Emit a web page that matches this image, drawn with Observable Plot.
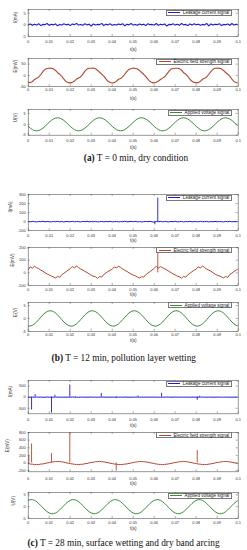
<!DOCTYPE html>
<html>
<head>
<meta charset="utf-8">
<script src="https://cdn.jsdelivr.net/npm/d3@7"></script>
<script src="https://cdn.jsdelivr.net/npm/@observablehq/plot@0.6"></script>
<style>
  html, body { margin: 0; padding: 0; background: #fff; }
  #fig { position: relative; width: 247px; height: 550px; overflow: hidden; background: #fff; }
  #fig svg { position: absolute; left: 0; }
  .legend { position: absolute; display: flex; align-items: center; box-sizing: border-box;
            height: 6px; border: 0.5px solid #777; background: #fff; padding: 0 2px 0 1.5px;
            font-family: 'Liberation Sans', Arial, sans-serif; font-size: 4.6px; color: #222; white-space: nowrap; }
  .legend .swatch { display: inline-block; width: 12px; height: 0; margin-right: 2.5px; }
  .caption { position: absolute; transform: translateX(-50%); white-space: nowrap;
             font-family: 'Liberation Serif', 'Times New Roman', serif; font-size: 9.3px; line-height: 10px; color: #111; }
</style>
</head>
<body>
<div id="fig"></div>
<script>
// ---- shared axis data ----
const SAMPLE_STEP = 0.001; // digitised every 1 ms over 0..0.1 s
const xTicks = [0, 0.01, 0.02, 0.03, 0.04, 0.05, 0.06, 0.07, 0.08, 0.09, 0.1];
const xTickLabels = ["0", "0.01", "0.02", "0.03", "0.04", "0.05", "0.06", "0.07", "0.08", "0.09", "0.1"];

// ---- (a) T = 0 min, dry condition ----
const aCurrent = [
  0.0,0.4,-0.2,0.3,-0.1,0.5,-0.3,0.2,0.1,0.6,
  -0.2,0.3,0.0,0.4,-0.4,0.2,-0.1,0.5,0.0,0.3,
  -0.3,0.4,0.1,0.6,-0.1,0.2,-0.2,0.5,0.0,0.3,
  -0.5,0.4,-0.1,0.2,0.1,0.6,-0.3,0.3,0.0,0.5,
  -0.2,0.2,-0.1,0.4,0.1,0.5,-0.4,0.3,0.0,0.6,
  -0.1,0.2,-0.2,0.4,0.0,0.3,-0.3,0.5,0.1,0.2,
  -0.1,0.6,-0.2,0.3,0.0,0.4,-0.5,0.2,0.1,0.5,
  -0.1,0.3,-0.2,0.6,0.0,0.2,-0.3,0.4,-0.1,0.5,
  0.1,0.3,-0.2,0.2,0.0,0.6,-0.4,0.4,-0.1,0.3,
  0.1,0.5,-0.3,0.2,0.0,0.4,-0.2,0.6,-0.1,0.3,
  0.1];
const aField = [
  -30,-32,-27,-18,-13,-7,4,17,27,31,33,32,29,22,12,5,-4,-17,-27,-32,
  -33,-31,-25,-16,-12,-6,6,19,28,32,32,33,30,23,14,6,-3,-15,-26,-31,
  -34,-32,-26,-17,-14,-5,5,18,27,30,33,31,29,22,13,5,-5,-16,-27,-32,
  -33,-30,-25,-18,-12,-6,6,18,28,31,32,32,30,23,12,6,-4,-17,-26,-31,
  -33,-32,-26,-17,-13,-7,5,17,27,32,33,32,29,22,13,5,-3,-16,-27,-32,
  -34];
const aVoltage = [
  -0.93,-1.76,-2.43,-2.85,-3,-2.85,-2.43,-1.76,-0.93,0,0.93,1.76,2.43,2.85,3,2.85,2.43,1.76,0.93,0,
  -0.93,-1.76,-2.43,-2.85,-3,-2.85,-2.43,-1.76,-0.93,0,0.93,1.76,2.43,2.85,3,2.85,2.43,1.76,0.93,0,
  -0.93,-1.76,-2.43,-2.85,-3,-2.85,-2.43,-1.76,-0.93,0,0.93,1.76,2.43,2.85,3,2.85,2.43,1.76,0.93,0,
  -0.93,-1.76,-2.43,-2.85,-3,-2.85,-2.43,-1.76,-0.93,0,0.93,1.76,2.43,2.85,3,2.85,2.43,1.76,0.93,0,
  -0.93,-1.76,-2.43,-2.85,-3,-2.85,-2.43,-1.76,-0.93,0,0.93,1.76,2.43,2.85,3,2.85,2.43,1.76,0.93,0,
  -0.93];

// ---- (b) T = 12 min, pollution layer wetting ----
const bCurrent = [
  1,-2,3,0,-3,2,-1,4,-2,1,
  0,-3,2,-1,3,-2,1,-4,2,0,
  -1,3,-2,1,0,-3,2,-1,4,-2,
  1,-1,3,-3,0,2,-2,1,-1,3,
  -2,0,2,-3,1,-1,4,-2,0,2,
  -1,3,-2,1,-3,0,2,-1,3,-2,
  -6,2,-1,3,-2,1,0,-3,2,-1,
  3,-2,0,2,-3,1,-1,4,-2,0,
  1,-2,3,-1,0,2,-3,1,-1,3,
  -2,1,0,-3,2,-1,3,-2,1,0,
  -1];
const bCurrentSpikeT = [0.0603, 0.0617];
const bCurrentSpikeV = [-35, 260];
const bField = [
  26,48,36,52,40,33,21,13,1,-9,-17,-25,-32,-42,-27,-36,-15,-3,9,21,
  33,50,38,55,41,30,22,11,3,-8,-19,-27,-30,-44,-29,-33,-13,-1,11,19,
  30,46,40,51,43,31,20,12,0,-10,-18,-24,-33,-41,-30,-34,-14,-2,10,22,
  35,52,37,49,40,32,23,12,2,-9,-17,-26,-31,-43,-28,-35,-15,-4,9,20,
  31,47,39,53,42,30,21,13,1,-11,-19,-25,-32,-40,-29,-36,-13,-2,10,21,
  32];
const bFieldSpikeT = [0.0617];
const bFieldSpikeV = [230];
const bVoltage = [
  -2.96,-2.96,-2.67,-2.12,-1.36,-0.47,0.47,1.36,2.12,2.67,2.96,2.96,2.67,2.12,1.36,0.47,-0.47,-1.36,-2.12,-2.67,
  -2.96,-2.96,-2.67,-2.12,-1.36,-0.47,0.47,1.36,2.12,2.67,2.96,2.96,2.67,2.12,1.36,0.47,-0.47,-1.36,-2.12,-2.67,
  -2.96,-2.96,-2.67,-2.12,-1.36,-0.47,0.47,1.36,2.12,2.67,2.96,2.96,2.67,2.12,1.36,0.47,-0.47,-1.36,-2.12,-2.67,
  -2.96,-2.96,-2.67,-2.12,-1.36,-0.47,0.47,1.36,2.12,2.67,2.96,2.96,2.67,2.12,1.36,0.47,-0.47,-1.36,-2.12,-2.67,
  -2.96,-2.96,-2.67,-2.12,-1.36,-0.47,0.47,1.36,2.12,2.67,2.96,2.96,2.67,2.12,1.36,0.47,-0.47,-1.36,-2.12,-2.67,
  -2.96];

// ---- (c) T = 28 min, surface wetting and dry band arcing ----
const cCurrent = [
  2,-5,4,-3,6,-2,3,-6,1,5,
  -3,2,-4,6,-1,3,-5,2,-2,4,
  -3,5,-1,2,-6,3,-2,4,-3,1,
  5,-2,3,-4,2,-1,6,-3,1,-2,
  4,-5,2,-1,3,-3,5,-2,1,-4,
  2,-1,4,-3,2,-5,3,-1,2,-2,
  4,-3,1,-5,3,-2,4,-1,2,-3,
  5,-2,1,-4,3,-1,2,-5,4,-2,
  1,-3,5,-1,2,-4,3,-2,1,-3,
  4,-1,2,-5,3,-2,1,-3,4,-1,
  2];
const cCurrentSpikeT = [0.0016, 0.0033, 0.0111, 0.0127, 0.0198, 0.0225, 0.0348, 0.0419, 0.0523, 0.0635, 0.0805, 0.0815];
const cCurrentSpikeV = [-580, 115, -720, 86, 545, -30, 170, -55, 50, 170, -145, 40];
const cField = [
  -10,-28,-30,-42,-36,-40,-27,-24,-10,2,10,26,30,40,36,42,28,22,6,-4,
  -18,-22,-35,-36,-44,-34,-32,-18,-14,3,14,20,35,36,44,34,31,17,10,-6,
  -14,-27,-30,-41,-38,-38,-28,-24,-9,-1,12,25,30,41,38,37,29,21,7,-2,
  -16,-24,-34,-37,-43,-35,-31,-20,-13,2,11,23,33,37,42,35,32,18,9,-5,
  -13,-26,-31,-40,-37,-39,-29,-22,-11,1,13,22,31,39,40,38,28,20,8,-3,
  -15];
const cFieldSpikeT = [0.0003, 0.0016, 0.0111, 0.0198, 0.0419, 0.0805];
const cFieldSpikeV = [190, 500, 250, 790, -210, 330];
const cVoltage = [
  2.67,2.96,2.96,2.67,2.12,1.36,0.47,-0.47,-1.36,-2.12,-2.67,-2.96,-2.96,-2.67,-2.12,-1.36,-0.47,0.47,1.36,2.12,
  2.67,2.96,2.96,2.67,2.12,1.36,0.47,-0.47,-1.36,-2.12,-2.67,-2.96,-2.96,-2.67,-2.12,-1.36,-0.47,0.47,1.36,2.12,
  2.67,2.96,2.96,2.67,2.12,1.36,0.47,-0.47,-1.36,-2.12,-2.67,-2.96,-2.96,-2.67,-2.12,-1.36,-0.47,0.47,1.36,2.12,
  2.67,2.96,2.96,2.67,2.12,1.36,0.47,-0.47,-1.36,-2.12,-2.67,-2.96,-2.96,-2.67,-2.12,-1.36,-0.47,0.47,1.36,2.12,
  2.67,2.96,2.96,2.67,2.12,1.36,0.47,-0.47,-1.36,-2.12,-2.67,-2.96,-2.96,-2.67,-2.12,-1.36,-0.47,0.47,1.36,2.12,
  2.67];

// ---- legend / label text ----
const legendCurrent = "Leakage current signal";
const legendField = "Electric field strength signal";
const legendVoltage = "Applied voltage signal";
const captions = [
  {tag: "(a)", text: " T = 0 min, dry condition"},
  {tag: "(b)", text: " T = 12 min, pollution layer wetting"},
  {tag: "(c)", text: " T = 28 min, surface wetting and dry band arcing"}
];

// ---- colours ----
const BLUE = "#1a1ad6", RED = "#b5452c", GREEN = "#3b8a3b";

// ---- layout of the nine axes ----
const panels = [
  {top: 9, bottom: 36, values: aCurrent, color: BLUE, sw: 1.1, y: [-5, 6.6], yTicks: [-5, 0, 5], yLabel: "I(mA)", yDx: -12.7, tickDy: 6.3, titleDy: 14.5, legend: legendCurrent},
  {top: 58.3, bottom: 86.5, values: aField, color: RED, sw: 1.1, y: [-50, 75], yTicks: [-50, 0, 50], yLabel: "E(mV)", yDx: -12.7, tickDy: 4.8, titleDy: 13.5, legend: legendField},
  {top: 109.3, bottom: 135, values: aVoltage, color: GREEN, sw: 1, y: [-5, 6.8], yTicks: [-5, 0, 5], yLabel: "U(V)", yDx: -12.7, tickDy: 6.7, titleDy: 14.3, legend: legendVoltage},
  {top: 194.3, bottom: 230.5, values: bCurrent, color: BLUE, sw: 1, y: [-100, 300], yTicks: [-100, 0, 100, 200, 300], yLabel: "I(mA)", yDx: -17.7, tickDy: 6.2, titleDy: 11.8, legend: legendCurrent, spikeT: bCurrentSpikeT, spikeV: bCurrentSpikeV},
  {top: 246.7, bottom: 284.7, values: bField, color: RED, sw: 1, y: [-100, 200], yTicks: [-100, 0, 100, 200], yLabel: "E(mV)", yDx: -16, tickDy: 5.3, titleDy: 10.6, legend: legendField, spikeT: bFieldSpikeT, spikeV: bFieldSpikeV},
  {top: 301.7, bottom: 330.5, values: bVoltage, color: GREEN, sw: 1, y: [-5, 6.2], yTicks: [-5, 0, 5], yLabel: "E(V)", yDx: -12.7, tickDy: 5.2, titleDy: 11.2, legend: legendVoltage},
  {top: 380, bottom: 413.3, values: cCurrent, color: BLUE, sw: 1, y: [-750, 750], yTicks: [-500, 0, 500], yLabel: "I(mA)", yDx: -17.7, tickDy: 7.7, titleDy: 13.4, legend: legendCurrent, spikeT: cCurrentSpikeT, spikeV: cCurrentSpikeV},
  {top: 431.7, bottom: 471, values: cField, color: RED, sw: 1, y: [-230, 800], yTicks: [-200, 0, 200, 400, 600, 800], yLabel: "E(mV)", yDx: -21, tickDy: 8, titleDy: 13.3, legend: legendField, spikeT: cFieldSpikeT, spikeV: cFieldSpikeV},
  {top: 492.3, bottom: 518.3, values: cVoltage, color: GREEN, sw: 1, y: [-5, 6], yTicks: [-5, 0, 5], yLabel: "U(V)", yDx: -14.4, tickDy: 5.4, titleDy: 11, legend: legendVoltage}
];
const captionCenters = [{x: 136, y: 158.3}, {x: 123.8, y: 358.3}, {x: 123.5, y: 543.3}];

const W = 247, ML = 27.7, MR = 9.3, MT = 3, MB = 18;
const FONT = "'Liberation Sans', Arial, Helvetica, sans-serif";
const AX = "#555";
const fig = document.getElementById("fig");

for (const p of panels) {
  const fh = p.bottom - p.top, fw = W - ML - MR;
  const series = p.values.map((v, i) => ({t: i * SAMPLE_STEP, v}));
  const spikes = (p.spikeT || []).map((t, i) => ({t, v: p.spikeV[i], base: 0}));
  const svg = Plot.plot({
    width: W, height: fh + MT + MB,
    marginLeft: ML, marginRight: MR, marginTop: MT, marginBottom: MB,
    style: {fontFamily: FONT, background: "none", overflow: "visible", color: "#333"},
    x: {domain: [0, 0.1], axis: null},
    y: {domain: p.y, axis: null},
    marks: [
      Plot.line(series, {x: "t", y: "v", stroke: p.color, strokeWidth: p.sw, clip: true}),
      Plot.ruleX(spikes, {x: "t", y1: "base", y2: "v", stroke: p.color, strokeWidth: 0.9, clip: true}),
      Plot.frame({stroke: AX, strokeWidth: 0.6}),
      Plot.ruleX(xTicks, {x: d => d, insetTop: fh - 2, stroke: AX, strokeWidth: 0.5}),
      Plot.ruleX(xTicks, {x: d => d, insetBottom: fh - 2, stroke: AX, strokeWidth: 0.5}),
      Plot.ruleY(p.yTicks, {y: d => d, insetRight: fw - 2, stroke: AX, strokeWidth: 0.5}),
      Plot.ruleY(p.yTicks, {y: d => d, insetLeft: fw - 2, stroke: AX, strokeWidth: 0.5}),
      Plot.text(xTicks, {x: d => d, frameAnchor: "bottom", dy: p.tickDy, text: (d, i) => xTickLabels[i], fontSize: 4, fill: "#333"}),
      Plot.text(p.yTicks, {y: d => d, frameAnchor: "left", dx: -2.5, textAnchor: "end", text: d => String(d), fontSize: 4, fill: "#333"}),
      Plot.text(["t(s)"], {frameAnchor: "bottom", dy: p.titleDy, text: d => d, fontSize: 4.6, fill: "#333"}),
      Plot.text([p.yLabel], {frameAnchor: "left", dx: p.yDx, rotate: -90, text: d => d, fontSize: 4.6, fill: "#333"})
    ]
  });
  svg.style.top = (p.top - MT) + "px";
  fig.appendChild(svg);

  const lg = document.createElement("div");
  lg.className = "legend";
  lg.style.right = (W - 232.3) + "px";
  lg.style.top = (p.top + 0.6) + "px";
  const sw = document.createElement("span");
  sw.className = "swatch";
  sw.style.borderTop = "0.8px solid " + p.color;
  lg.appendChild(sw);
  lg.appendChild(document.createTextNode(p.legend));
  fig.appendChild(lg);
}

captions.forEach((c, i) => {
  const d = document.createElement("div");
  d.className = "caption";
  d.style.left = captionCenters[i].x + "px";
  d.style.top = (captionCenters[i].y - 5) + "px";
  const b = document.createElement("b");
  b.textContent = c.tag;
  d.appendChild(b);
  d.appendChild(document.createTextNode(c.text));
  fig.appendChild(d);
});
</script>
</body>
</html>
